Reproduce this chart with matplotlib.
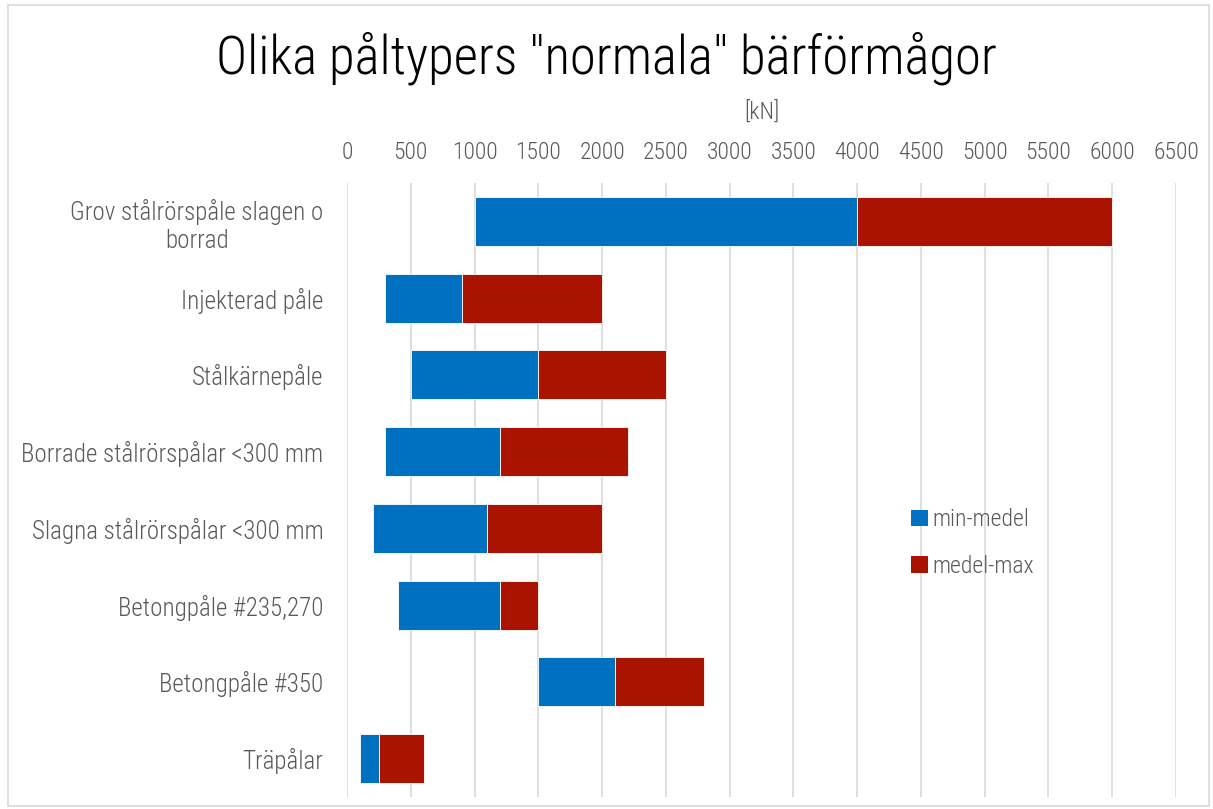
import matplotlib
matplotlib.use("Agg")
import matplotlib.pyplot as plt
from matplotlib import font_manager
from matplotlib.patches import Patch

names = {f.name for f in font_manager.fontManager.ttflist}
main_font = "DejaVu Sans"
for cand in ["Roboto Condensed", "Archivo Narrow", "Open Sans Condensed", "Liberation Sans Narrow", "Carlito"]:
    if cand in names:
        main_font = cand
        break
plt.rcParams['font.family'] = [main_font, "DejaVu Sans"]
plt.rcParams['font.weight'] = 'light'
plt.rcParams['axes.labelweight'] = 'light'

categories = ["Grov stålrörspåle slagen o\nborrad", "Injekterad påle", "Stålkärnepåle",
              "Borrade stålrörspålar <300 mm", "Slagna stålrörspålar <300 mm",
              "Betongpåle #235,270", "Betongpåle #350", "Träpålar"]
min_vals = [1000, 300, 500, 300, 200, 400, 1500, 100]
medel_vals = [4000, 900, 1500, 1200, 1100, 1200, 2100, 250]
max_vals = [6000, 2000, 2500, 2200, 2000, 1500, 2800, 600]
xticks = list(range(0, 6501, 500))

blue = "#0070C0"
red = "#A91300"
gray = "#595959"

fig = plt.figure(figsize=(12.13, 8.09), dpi=100)
ax = fig.add_axes([347/1213, 1-797/809, (1176-347)/1213, (797-183)/809])

ypos = list(range(len(categories)))
w1 = [m - a for a, m in zip(min_vals, medel_vals)]
w2 = [b - m for m, b in zip(medel_vals, max_vals)]
ax.barh(ypos, w1, left=min_vals, height=0.64, color=blue, edgecolor="white", linewidth=0.6, label="min-medel", zorder=3)
ax.barh(ypos, w2, left=medel_vals, height=0.64, color=red, edgecolor="white", linewidth=0.6, label="medel-max", zorder=3)

ax.set_ylim(len(categories) - 0.5, -0.5)
ax.set_xlim(0, 6500)
ax.set_xticks(xticks)
ax.xaxis.tick_top()
ax.tick_params(axis='x', length=0, labelsize=17, labelcolor=gray, pad=14)
ax.set_yticks(ypos)
ax.set_yticklabels(categories, fontsize=18, color=gray, ha='right', multialignment='center')
ax.tick_params(axis='y', length=0, pad=17)
ax.grid(axis='x', color="#D9D9D9", linewidth=1.2, zorder=0)
for s in ax.spines.values():
    s.set_visible(False)

ax.xaxis.set_label_position('top')
ax.set_xlabel("[kN]", fontsize=17, color=gray, labelpad=16, fontweight='light')

fig.text(0.5, 1 - 58/809, 'Olika påltypers "normala" bärförmågor', ha='center', va='center',
         fontsize=38, color='black', fontweight='light')

handles = [Patch(facecolor=blue), Patch(facecolor=red)]
leg = fig.legend(handles, ["min-medel", "medel-max"], loc='center left',
                 bbox_to_anchor=(890/1213, 1 - 543/809), frameon=False, fontsize=17,
                 handlelength=0.7, handleheight=0.7, handletextpad=0.2, labelspacing=1.0)
for t in leg.get_texts():
    t.set_color(gray)

border = plt.Rectangle((0.007, 0.004), 0.99, 0.99, transform=fig.transFigure, fill=False,
                       edgecolor="#D9D9D9", linewidth=1.2)
fig.patches.append(border)

fig.savefig("out.png", dpi=100)
